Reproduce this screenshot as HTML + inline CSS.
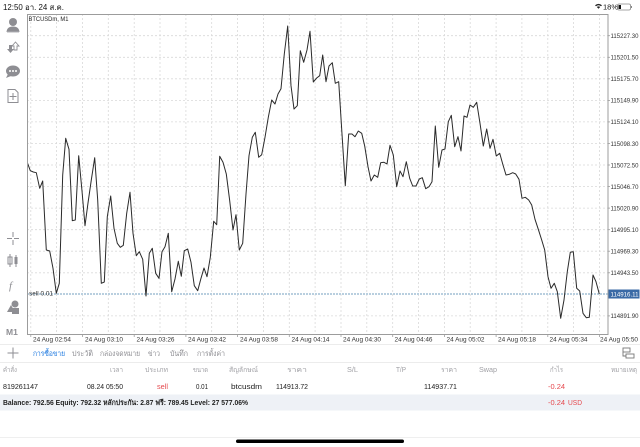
<!DOCTYPE html>
<html><head><meta charset="utf-8"><style>
html,body{margin:0;padding:0;background:#fff;}
svg{display:block;font-family:"Liberation Sans","DejaVu Sans",sans-serif;}
</style></head><body>
<svg width="640" height="447" viewBox="0 0 640 447" xmlns="http://www.w3.org/2000/svg">
<rect width="640" height="447" fill="#fff"/>
<!-- status bar -->
<text x="3" y="10" font-size="8" fill="#111" textLength="61" lengthAdjust="spacingAndGlyphs">12:50  อา. 24 ส.ค.</text>
<g fill="#222">
<path d="M595 5.2 Q598.5 2.5 602 5.2 L601 6.2 Q598.5 4.3 596 6.2Z"/>
<path d="M596.8 7 Q598.5 5.8 600.2 7 L598.5 8.8Z"/>
</g>
<text x="603" y="9.5" font-size="7.5" fill="#111">18%</text>
<rect x="617.5" y="4" width="13" height="6" rx="1.5" fill="none" stroke="#888" stroke-width="0.8"/>
<rect x="618.5" y="5" width="2.5" height="4" fill="#111"/>
<rect x="631" y="6" width="1" height="2" fill="#888"/>

<!-- grid -->
<g stroke="#d9d9d9" stroke-width="0.8" stroke-dasharray="2,2">
<line x1="27" y1="35.7" x2="608" y2="35.7"/>
<line x1="27" y1="57.3" x2="608" y2="57.3"/>
<line x1="27" y1="78.8" x2="608" y2="78.8"/>
<line x1="27" y1="100.4" x2="608" y2="100.4"/>
<line x1="27" y1="121.9" x2="608" y2="121.9"/>
<line x1="27" y1="143.5" x2="608" y2="143.5"/>
<line x1="27" y1="165" x2="608" y2="165"/>
<line x1="27" y1="186.6" x2="608" y2="186.6"/>
<line x1="27" y1="208.1" x2="608" y2="208.1"/>
<line x1="27" y1="229.7" x2="608" y2="229.7"/>
<line x1="27" y1="251.2" x2="608" y2="251.2"/>
<line x1="27" y1="272.8" x2="608" y2="272.8"/>
<line x1="27" y1="315.9" x2="608" y2="315.9"/>
<line x1="30.8" y1="14" x2="30.8" y2="334"/>
<line x1="56.6" y1="14" x2="56.6" y2="334"/>
<line x1="82.5" y1="14" x2="82.5" y2="334"/>
<line x1="108.3" y1="14" x2="108.3" y2="334"/>
<line x1="134.2" y1="14" x2="134.2" y2="334"/>
<line x1="160" y1="14" x2="160" y2="334"/>
<line x1="185.9" y1="14" x2="185.9" y2="334"/>
<line x1="211.7" y1="14" x2="211.7" y2="334"/>
<line x1="237.6" y1="14" x2="237.6" y2="334"/>
<line x1="263.4" y1="14" x2="263.4" y2="334"/>
<line x1="289.3" y1="14" x2="289.3" y2="334"/>
<line x1="315.1" y1="14" x2="315.1" y2="334"/>
<line x1="341" y1="14" x2="341" y2="334"/>
<line x1="366.8" y1="14" x2="366.8" y2="334"/>
<line x1="392.7" y1="14" x2="392.7" y2="334"/>
<line x1="418.5" y1="14" x2="418.5" y2="334"/>
<line x1="444.4" y1="14" x2="444.4" y2="334"/>
<line x1="470.2" y1="14" x2="470.2" y2="334"/>
<line x1="496.1" y1="14" x2="496.1" y2="334"/>
<line x1="521.9" y1="14" x2="521.9" y2="334"/>
<line x1="547.8" y1="14" x2="547.8" y2="334"/>
<line x1="573.6" y1="14" x2="573.6" y2="334"/>
<line x1="599.5" y1="14" x2="599.5" y2="334"/>
</g>

<!-- sell line -->
<line x1="27" y1="294" x2="608" y2="294" stroke="#b9cfdf" stroke-width="2" stroke-dasharray="2,1"/>
<text x="29" y="295.5" font-size="6" fill="#333" textLength="24" lengthAdjust="spacingAndGlyphs">sell 0.01</text>

<!-- price line -->
<polyline fill="none" stroke="#2a2a2a" stroke-width="1" stroke-linejoin="round" points="27.6,163.3 30.3,170.7 33.3,172 36.3,172.7 39.7,188.3 42.7,181 46.3,250 49.7,251 53,268.3 56.3,293.3 59.3,283.3 62.7,175 65.7,138.3 69,149.3 72.3,220.7 75.3,220 78.7,155.7 82,191 85,225.7 88,203 91.3,180 94.7,157.7 97.7,200 101.3,283.3 104.3,282 107.3,216.7 110.7,196 114,228.3 117.3,243.3 120.3,247.3 123.3,245.3 126.7,213.3 130,192.3 133,233.3 136.3,255.7 139.3,251.7 142.7,259.3 146,296 149.3,253.3 152.3,248.3 155.7,273.3 159,278.3 162,251.7 165,246.7 168.3,233.3 171.7,291.7 175,279 178.3,261.3 181.3,276.3 184.3,250.7 187.7,249 191,262.3 194.3,285.7 197.7,290.7 201,278.3 204,268 207,276.7 210.3,257.3 213.7,221.3 216.7,224.7 219.7,156.3 223,162.3 226.3,174 229.7,200.7 233,230 236,214.7 239.3,250 242.7,243.3 246,194 249,155.7 252.3,137.3 255.3,132.3 258.7,157.3 261.7,154.7 265,137.3 268.3,117.3 271.7,100 275,104 278,94 281,88.7 284.3,54 287.7,26 291,85.7 294,109 297.3,105.7 300.3,50.7 303.7,62.3 307,50 310,31.3 313.3,82 316.7,78 319.7,75.7 322.7,55 326,81.7 329,66 332.3,62.7 335.3,83.3 338.7,81.7 342,134 345.3,185.7 348.7,134 352,134 355,136.7 358.3,131 361.7,133.3 364.7,146 368,166.7 371,181 374.3,175 377.7,177.3 380.7,162.7 384,162.3 387,164 390,145.3 393.3,155 396.7,186.7 400,171 403,176.7 406.3,161.7 409.7,178.3 412.7,186 416,186 419.3,179 422.3,177.7 425.7,188.7 429,186.7 432,181.7 435.3,126 438.7,167.3 442,150 445,149 448.3,121.7 451.3,115.3 454.7,146.7 458,136.7 461,151 464,116 467,117.3 470,105 473.3,107.3 476.7,102.3 480,123.3 483.3,146 486.7,129 490,148.3 493,139.3 496.3,156 499.7,153.3 503,165 506,175 509.3,174.3 512.7,172.7 515.7,174 519,179.3 522,198.3 525.3,197.3 528.7,200 531.7,205 535,219.3 538.3,229.3 541.7,240 544.7,250 548,276.7 551,288.3 554.3,283.3 557.3,291.7 560.7,318.3 564,300 567.3,271.7 570.3,252.3 573.3,251.7 576.7,288.3 579.7,291 583,313.3 586.3,317.7 589.3,317.3 593,275 596,281.7 599.3,294"/>

<!-- frame -->
<rect x="27.5" y="14.5" width="580.5" height="320" fill="none" stroke="#9c9c9c" stroke-width="1"/>
<text x="28.5" y="21" font-size="6.3" fill="#222" textLength="40" lengthAdjust="spacingAndGlyphs">BTCUSDm, M1</text>

<!-- right axis -->
<g stroke="#9c9c9c" stroke-width="0.8">
<line x1="608" y1="35.7" x2="610" y2="35.7"/><line x1="608" y1="57.3" x2="610" y2="57.3"/><line x1="608" y1="78.8" x2="610" y2="78.8"/><line x1="608" y1="100.4" x2="610" y2="100.4"/><line x1="608" y1="121.9" x2="610" y2="121.9"/><line x1="608" y1="143.5" x2="610" y2="143.5"/><line x1="608" y1="165" x2="610" y2="165"/><line x1="608" y1="186.6" x2="610" y2="186.6"/><line x1="608" y1="208.1" x2="610" y2="208.1"/><line x1="608" y1="229.7" x2="610" y2="229.7"/><line x1="608" y1="251.2" x2="610" y2="251.2"/><line x1="608" y1="272.8" x2="610" y2="272.8"/><line x1="608" y1="315.9" x2="610" y2="315.9"/>
</g>
<g font-size="6.5" fill="#333">
<text x="610.5" y="38" textLength="28" lengthAdjust="spacingAndGlyphs">115227.30</text>
<text x="610.5" y="59.6" textLength="28" lengthAdjust="spacingAndGlyphs">115201.50</text>
<text x="610.5" y="81.1" textLength="28" lengthAdjust="spacingAndGlyphs">115175.70</text>
<text x="610.5" y="102.7" textLength="28" lengthAdjust="spacingAndGlyphs">115149.90</text>
<text x="610.5" y="124.2" textLength="28" lengthAdjust="spacingAndGlyphs">115124.10</text>
<text x="610.5" y="145.8" textLength="28" lengthAdjust="spacingAndGlyphs">115098.30</text>
<text x="610.5" y="167.3" textLength="28" lengthAdjust="spacingAndGlyphs">115072.50</text>
<text x="610.5" y="188.9" textLength="28" lengthAdjust="spacingAndGlyphs">115046.70</text>
<text x="610.5" y="210.4" textLength="28" lengthAdjust="spacingAndGlyphs">115020.90</text>
<text x="610.5" y="232" textLength="28" lengthAdjust="spacingAndGlyphs">114995.10</text>
<text x="610.5" y="253.5" textLength="28" lengthAdjust="spacingAndGlyphs">114969.30</text>
<text x="610.5" y="275.1" textLength="28" lengthAdjust="spacingAndGlyphs">114943.50</text>
<text x="610.5" y="318.2" textLength="28" lengthAdjust="spacingAndGlyphs">114891.90</text>
</g>
<rect x="608.5" y="289.5" width="31" height="9" fill="#3a6aa6"/>
<text x="610.5" y="296.3" font-size="6.5" fill="#fff" textLength="28" lengthAdjust="spacingAndGlyphs">114916.11</text>

<!-- bottom axis -->
<g stroke="#9c9c9c" stroke-width="0.8">
<line x1="30.8" y1="334" x2="30.8" y2="337"/><line x1="82.5" y1="334" x2="82.5" y2="337"/><line x1="134.2" y1="334" x2="134.2" y2="337"/><line x1="185.9" y1="334" x2="185.9" y2="337"/><line x1="237.6" y1="334" x2="237.6" y2="337"/><line x1="289.3" y1="334" x2="289.3" y2="337"/><line x1="341" y1="334" x2="341" y2="337"/><line x1="392.7" y1="334" x2="392.7" y2="337"/><line x1="444.4" y1="334" x2="444.4" y2="337"/><line x1="496.1" y1="334" x2="496.1" y2="337"/><line x1="547.8" y1="334" x2="547.8" y2="337"/><line x1="599.5" y1="334" x2="599.5" y2="337"/>
</g>
<g font-size="6.5" fill="#333">
<text x="33" y="341.5" textLength="38" lengthAdjust="spacingAndGlyphs">24 Aug 02:54</text>
<text x="85" y="341.5" textLength="38" lengthAdjust="spacingAndGlyphs">24 Aug 03:10</text>
<text x="136.5" y="341.5" textLength="38" lengthAdjust="spacingAndGlyphs">24 Aug 03:26</text>
<text x="188" y="341.5" textLength="38" lengthAdjust="spacingAndGlyphs">24 Aug 03:42</text>
<text x="240" y="341.5" textLength="38" lengthAdjust="spacingAndGlyphs">24 Aug 03:58</text>
<text x="291.5" y="341.5" textLength="38" lengthAdjust="spacingAndGlyphs">24 Aug 04:14</text>
<text x="343" y="341.5" textLength="38" lengthAdjust="spacingAndGlyphs">24 Aug 04:30</text>
<text x="394.5" y="341.5" textLength="38" lengthAdjust="spacingAndGlyphs">24 Aug 04:46</text>
<text x="446.5" y="341.5" textLength="38" lengthAdjust="spacingAndGlyphs">24 Aug 05:02</text>
<text x="498" y="341.5" textLength="38" lengthAdjust="spacingAndGlyphs">24 Aug 05:18</text>
<text x="549.5" y="341.5" textLength="38" lengthAdjust="spacingAndGlyphs">24 Aug 05:34</text>
<text x="600" y="341.5" textLength="38" lengthAdjust="spacingAndGlyphs">24 Aug 05:50</text>
</g>

<!-- left toolbar icons -->
<g fill="#8e8e93" stroke="none">
<circle cx="13" cy="22" r="4"/>
<path d="M6.5 32 Q7 26.5 13 26.5 Q19 26.5 19.5 32Z"/>
<rect x="7" y="31.5" width="12" height="1" fill="#b0b0b4"/>
<path d="M9 45 h3 v4 h2 l-3.5 4 l-3.5 -4 h2z"/>
<path d="M15.5 42 l3.5 4 h-2 v4 h-3 v-4 h-2z" fill="none" stroke="#8e8e93" stroke-width="0.9"/>
<ellipse cx="13" cy="71" rx="7" ry="5.5"/>
<path d="M8 74 l-2 4 l5 -2z"/>
<circle cx="10" cy="71" r="1" fill="#fff"/><circle cx="13" cy="71" r="1" fill="#fff"/><circle cx="16" cy="71" r="1" fill="#fff"/>
</g>
<g fill="none" stroke="#8e8e93" stroke-width="1">
<path d="M8 89.5 h7 l3 3 v10 h-10z"/>
<path d="M13 93 v7 M9.5 96.5 h7"/>
<path d="M13 232 v5 M13 240 v5 M7 238.5 h5 M14 238.5 h5"/>
<path d="M16 255 v12"/>
</g>
<g fill="#8e8e93">
<rect x="8" y="257" width="4" height="7" fill="none" stroke="#8e8e93" stroke-width="1"/>
<line x1="10" y1="254" x2="10" y2="267" stroke="#8e8e93" stroke-width="1"/>
<rect x="14.5" y="257" width="3" height="7"/>
<text x="9" y="289" font-size="11" font-style="italic" font-family="Liberation Serif, serif">f</text>
<circle cx="15" cy="304" r="3.5"/>
<path d="M7 312 l4 -7 l4 7z"/>
<rect x="12" y="308" width="7" height="6"/>
<text x="6" y="335" font-size="8.5" font-weight="bold" fill="#8e8e93">M1</text>
</g>

<!-- tabs row -->
<line x1="0" y1="344.5" x2="640" y2="344.5" stroke="#ececec" stroke-width="1"/>
<line x1="0" y1="362.5" x2="640" y2="362.5" stroke="#ececec" stroke-width="1"/>
<path d="M13 347.5 v11 M7.5 353 h11" stroke="#8e8e93" stroke-width="1" fill="none"/>
<g font-size="7.5">
<text x="33" y="356" fill="#1f7ae0" textLength="32" lengthAdjust="spacingAndGlyphs">การซื้อขาย</text>
<text x="72" y="356" fill="#8e8e93" textLength="21" lengthAdjust="spacingAndGlyphs">ประวัติ</text>
<text x="100" y="356" fill="#8e8e93" textLength="40" lengthAdjust="spacingAndGlyphs">กล่องจดหมาย</text>
<text x="148" y="356" fill="#8e8e93" textLength="12" lengthAdjust="spacingAndGlyphs">ข่าว</text>
<text x="170" y="356" fill="#8e8e93" textLength="18" lengthAdjust="spacingAndGlyphs">บันทึก</text>
<text x="197" y="356" fill="#8e8e93" textLength="28" lengthAdjust="spacingAndGlyphs">การตั้งค่า</text>
</g>
<g fill="none" stroke="#777" stroke-width="0.9">
<rect x="623" y="348" width="7" height="4"/>
<rect x="626" y="354" width="8" height="4"/>
<path d="M623 352 v4 h3"/>
</g>

<!-- header row -->
<g font-size="7" fill="#a0a0a5">
<text x="3" y="372" textLength="14" lengthAdjust="spacingAndGlyphs">คำสั่ง</text>
<text x="110" y="372" textLength="13" lengthAdjust="spacingAndGlyphs">เวลา</text>
<text x="145" y="372" textLength="23" lengthAdjust="spacingAndGlyphs">ประเภท</text>
<text x="193" y="372" textLength="15" lengthAdjust="spacingAndGlyphs">ขนาด</text>
<text x="229" y="372" textLength="29" lengthAdjust="spacingAndGlyphs">สัญลักษณ์</text>
<text x="287" y="372" textLength="20" lengthAdjust="spacingAndGlyphs">ราคา</text>
<text x="347" y="372" textLength="11" lengthAdjust="spacingAndGlyphs">S/L</text>
<text x="396" y="372" textLength="10" lengthAdjust="spacingAndGlyphs">T/P</text>
<text x="441" y="372" textLength="16" lengthAdjust="spacingAndGlyphs">ราคา</text>
<text x="479" y="372" textLength="18" lengthAdjust="spacingAndGlyphs">Swap</text>
<text x="550" y="372" textLength="13" lengthAdjust="spacingAndGlyphs">กำไร</text>
<text x="611" y="372" textLength="26" lengthAdjust="spacingAndGlyphs">หมายเหตุ</text>
</g>

<!-- data row -->
<g font-size="7.2" fill="#222">
<text x="3" y="389" textLength="35" lengthAdjust="spacingAndGlyphs">819261147</text>
<text x="87" y="389" textLength="36" lengthAdjust="spacingAndGlyphs">08.24 05:50</text>
<text x="157" y="389" fill="#e5484d" textLength="11" lengthAdjust="spacingAndGlyphs">sell</text>
<text x="196" y="389" textLength="12" lengthAdjust="spacingAndGlyphs">0.01</text>
<text x="231" y="389" textLength="31" lengthAdjust="spacingAndGlyphs">btcusdm</text>
<text x="276" y="389" textLength="32" lengthAdjust="spacingAndGlyphs">114913.72</text>
<text x="424" y="389" textLength="33" lengthAdjust="spacingAndGlyphs">114937.71</text>
<text x="548" y="389" fill="#e5484d" textLength="17" lengthAdjust="spacingAndGlyphs">-0.24</text>
</g>

<!-- balance row -->
<rect x="0" y="394.5" width="640" height="16" fill="#eef1f6"/>
<text x="3" y="405" font-size="7.2" font-weight="bold" fill="#222" textLength="245" lengthAdjust="spacingAndGlyphs">Balance: 792.56 Equity: 792.32 หลักประกัน: 2.87 ฟรี: 789.45 Level: 27 577.06%</text>
<text x="548" y="405" font-size="7.2" fill="#e5484d" textLength="17" lengthAdjust="spacingAndGlyphs">-0.24</text>
<text x="568" y="405" font-size="7.2" fill="#e5484d" textLength="14" lengthAdjust="spacingAndGlyphs">USD</text>

<!-- bottom -->
<line x1="0" y1="437.5" x2="640" y2="437.5" stroke="#efefef" stroke-width="1"/>
<rect x="236" y="439.5" width="168" height="3.5" rx="1.75" fill="#000"/>
</svg>
</body></html>
